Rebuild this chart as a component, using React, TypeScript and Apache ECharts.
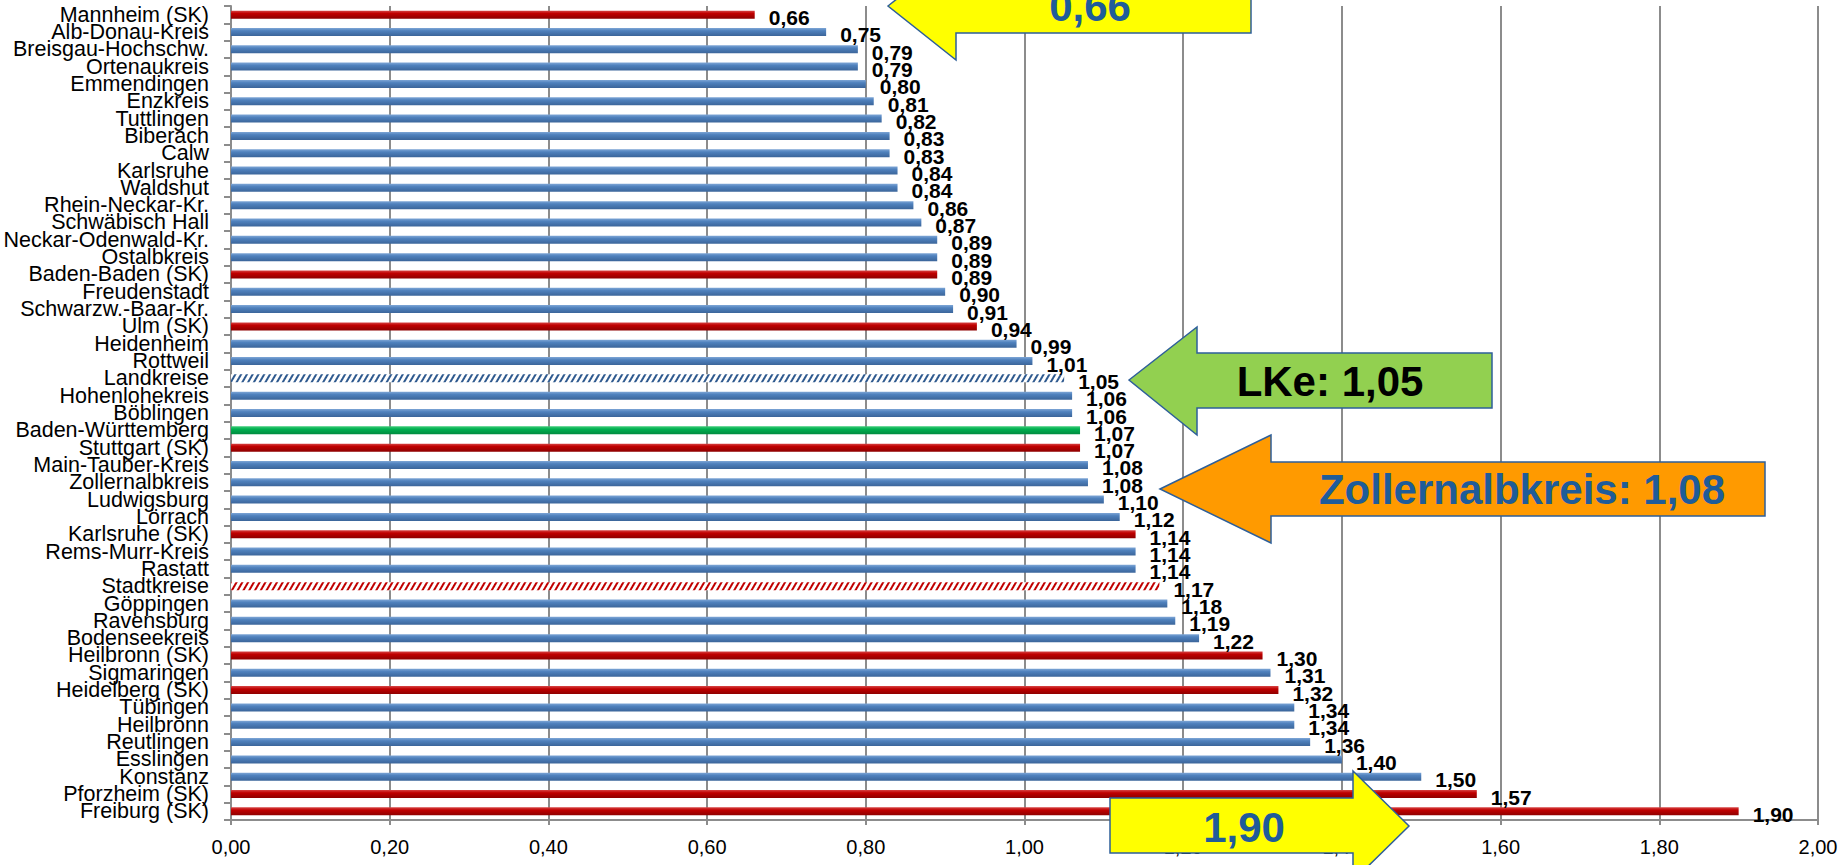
import React, { useEffect, useRef } from "react";
import * as echarts from "echarts";

const categories = [
  "Mannheim (SK)", "Alb-Donau-Kreis", "Breisgau-Hochschw.", "Ortenaukreis", "Emmendingen",
  "Enzkreis", "Tuttlingen", "Biberach", "Calw", "Karlsruhe", "Waldshut", "Rhein-Neckar-Kr.",
  "Schwäbisch Hall", "Neckar-Odenwald-Kr.", "Ostalbkreis", "Baden-Baden (SK)", "Freudenstadt",
  "Schwarzw.-Baar-Kr.", "Ulm (SK)", "Heidenheim", "Rottweil", "Landkreise", "Hohenlohekreis",
  "Böblingen", "Baden-Württemberg", "Stuttgart (SK)", "Main-Tauber-Kreis", "Zollernalbkreis",
  "Ludwigsburg", "Lörrach", "Karlsruhe (SK)", "Rems-Murr-Kreis", "Rastatt", "Stadtkreise",
  "Göppingen", "Ravensburg", "Bodenseekreis", "Heilbronn (SK)", "Sigmaringen", "Heidelberg (SK)",
  "Tübingen", "Heilbronn", "Reutlingen", "Esslingen", "Konstanz", "Pforzheim (SK)", "Freiburg (SK)",
];

const values = [
  0.66, 0.75, 0.79, 0.79, 0.80, 0.81, 0.82, 0.83, 0.83, 0.84, 0.84, 0.86, 0.87, 0.89, 0.89,
  0.89, 0.90, 0.91, 0.94, 0.99, 1.01, 1.05, 1.06, 1.06, 1.07, 1.07, 1.08, 1.08, 1.10, 1.12,
  1.14, 1.14, 1.14, 1.17, 1.18, 1.19, 1.22, 1.30, 1.31, 1.32, 1.34, 1.34, 1.36, 1.40, 1.50,
  1.57, 1.90,
];

// r = Stadtkreis (red), b = Landkreis (blue), g = Land, hb / hr = hatched averages
const kinds = [
  "r", "b", "b", "b", "b", "b", "b", "b", "b", "b", "b", "b", "b", "b", "b", "r", "b", "b", "r",
  "b", "b", "hb", "b", "b", "g", "r", "b", "b", "b", "b", "r", "b", "b", "hr", "b", "b", "b", "r",
  "b", "r", "b", "b", "b", "b", "b", "r", "r",
];

const xTicks = { min: 0, max: 2, interval: 0.2 };

const fmt = (v: number) => v.toFixed(2).replace(".", ",");

const grad = (top: string, mid: string, bot: string) => ({
  type: "linear", x: 0, y: 0, x2: 0, y2: 1,
  colorStops: [
    { offset: 0, color: top },
    { offset: 0.35, color: mid },
    { offset: 1, color: bot },
  ],
});

function itemStyleFor(kind: string) {
  if (kind === "r") return { color: grad("#D64545", "#C00000", "#8E0000") };
  if (kind === "g") return { color: grad("#3CCB78", "#00B050", "#008A3E") };
  if (kind === "hb" || kind === "hr") {
    return {
      color: "#FFFFFF",
      decal: {
        symbol: "rect",
        symbolSize: 1,
        dashArrayX: [1, 0],
        dashArrayY: [2, 3],
        rotation: -Math.PI / 3,
        color: kind === "hb" ? "#2F5A8F" : "#C00000",
      },
    };
  }
  return { color: grad("#7EA6D6", "#4F81BD", "#3B659A") };
}

const arrowBorder = "#2E5F99";
const arrowTextBlue = "#1F5C99";

export default function App() {
  const ref = useRef<HTMLDivElement>(null);
  useEffect(() => {
    document.body.style.margin = "0";
    const chart = echarts.init(ref.current!, undefined, { renderer: "svg" });
    const data = values.map((v, i) => ({ value: v, itemStyle: itemStyleFor(kinds[i]) }));
    chart.setOption({
      animation: false,
      backgroundColor: "#FFFFFF",
      grid: { left: 231, right: 27, top: 6, bottom: 45, containLabel: false },
      xAxis: {
        type: "value",
        min: xTicks.min,
        max: xTicks.max,
        interval: xTicks.interval,
        axisLabel: {
          formatter: (v: number) => fmt(v),
          fontSize: 20,
          color: "#000",
          fontFamily: "Liberation Sans",
          margin: 17,
        },
        axisLine: { show: true, lineStyle: { color: "#8C8C8C", width: 2 } },
        axisTick: { show: true, length: 5, lineStyle: { color: "#8C8C8C", width: 2 } },
        splitLine: { show: true, lineStyle: { color: "#8C8C8C", width: 2 } },
      },
      yAxis: {
        type: "category",
        inverse: true,
        data: categories,
        axisLabel: {
          interval: 0,
          fontSize: 21.5,
          color: "#000",
          fontFamily: "Liberation Sans",
          margin: 22,
        },
        axisLine: { show: true, lineStyle: { color: "#8C8C8C", width: 2 } },
        axisTick: { show: true, length: 7, lineStyle: { color: "#8C8C8C", width: 2 } },
      },
      series: [
        {
          type: "bar",
          data,
          barWidth: 8,
          label: {
            show: true,
            position: "right",
            distance: 14,
            offset: [0, 3],
            formatter: (p: any) => fmt(p.value),
            fontSize: 21,
            fontWeight: "bold",
            color: "#000",
            fontFamily: "Liberation Sans",
          },
        },
      ],
      graphic: [
        {
          type: "polygon", z: 100,
          shape: { points: [[888, 6], [956, -48], [956, -21], [1251, -21], [1251, 33], [956, 33], [956, 60]] },
          style: { fill: "#FFFF00", stroke: arrowBorder, lineWidth: 1.5 },
        },
        {
          type: "text", z: 101, x: 1090, y: 6,
          style: { text: "0,66", fill: arrowTextBlue, font: "bold 42px 'Liberation Sans'", textAlign: "center", textVerticalAlign: "middle" },
        },
        {
          type: "polygon", z: 100,
          shape: { points: [[1129, 380], [1197, 327], [1197, 353], [1492, 353], [1492, 408], [1197, 408], [1197, 435]] },
          style: { fill: "#92D050", stroke: arrowBorder, lineWidth: 1.5 },
        },
        {
          type: "text", z: 101, x: 1330, y: 381,
          style: { text: "LKe: 1,05", fill: "#000000", font: "bold 42px 'Liberation Sans'", textAlign: "center", textVerticalAlign: "middle" },
        },
        {
          type: "polygon", z: 100,
          shape: { points: [[1160, 489], [1271, 435], [1271, 462], [1765, 462], [1765, 516], [1271, 516], [1271, 543]] },
          style: { fill: "#FF9A00", stroke: arrowBorder, lineWidth: 1.5 },
        },
        {
          type: "text", z: 101, x: 1522, y: 489,
          style: { text: "Zollernalbkreis: 1,08", fill: arrowTextBlue, font: "bold 42px 'Liberation Sans'", textAlign: "center", textVerticalAlign: "middle" },
        },
        {
          type: "polygon", z: 100,
          shape: { points: [[1110, 798], [1353, 798], [1353, 771], [1409, 826], [1353, 881], [1353, 853], [1110, 853]] },
          style: { fill: "#FFFF00", stroke: arrowBorder, lineWidth: 1.5 },
        },
        {
          type: "text", z: 101, x: 1244, y: 827,
          style: { text: "1,90", fill: arrowTextBlue, font: "bold 42px 'Liberation Sans'", textAlign: "center", textVerticalAlign: "middle" },
        },
      ],
    });
    return () => chart.dispose();
  }, []);
  return (
    <div
      ref={ref}
      style={{ position: "fixed", left: 0, top: 0, width: 1845, height: 865, background: "#fff" }}
    />
  );
}
